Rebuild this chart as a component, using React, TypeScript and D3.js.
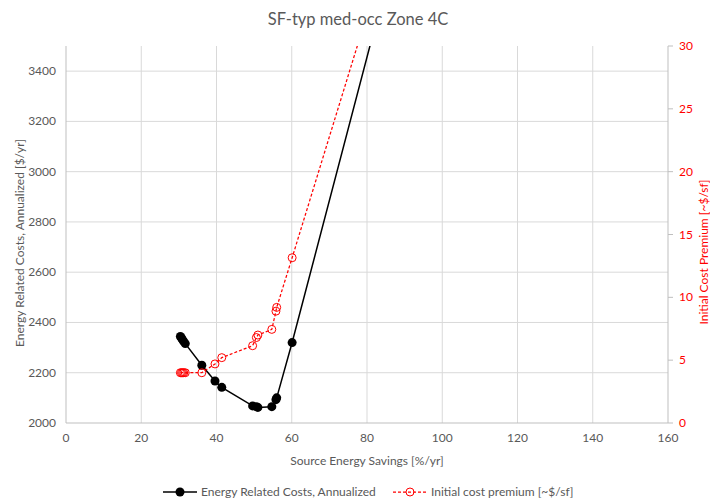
import { useEffect, useRef } from "react";
import * as d3 from "d3";

// source energy savings [%/yr], shared by both series
const savings = [30.4, 30.7, 31.0, 31.3, 31.7, 36.1, 39.6, 41.4, 49.6, 50.6, 51.0, 54.7, 55.8, 56.0, 60.1, 84.0];
// energy related costs, annualized [$/yr]
const costs = [2344, 2338, 2331, 2324, 2316, 2230, 2167, 2142, 2068, 2065, 2062, 2065, 2093, 2100, 2320, 3684];
// initial cost premium [~$/sf]
const premium = [4.0, 4.0, 4.0, 4.0, 4.0, 4.0, 4.7, 5.2, 6.15, 6.8, 7.0, 7.45, 8.9, 9.2, 13.15, 36.4];

const xTicks = [0, 20, 40, 60, 80, 100, 120, 140, 160];
const yTicks = [2000, 2200, 2400, 2600, 2800, 3000, 3200, 3400];
const y2Ticks = [0, 5, 10, 15, 20, 25, 30];

const W = 710, H = 501;
const FONT = "Lato, 'Open Sans', sans-serif";
const GREY = "#595959";

function render(svgEl: SVGSVGElement) {
    const svg = d3.select(svgEl);
    svg.selectAll("*").remove();

    const left = 66, right = 668, top = 46, bottom = 423;
    const x = d3.scaleLinear().domain([0, 160]).range([left, right]);
    const y = d3.scaleLinear().domain([2000, 3500]).range([bottom, top]);
    const y2 = d3.scaleLinear().domain([0, 30]).range([bottom, top]);

    svg.append("defs").append("clipPath").attr("id", "plot")
        .append("rect").attr("x", left).attr("y", top).attr("width", right - left).attr("height", bottom - top);

    // grid
    svg.append("g").selectAll("line").data(xTicks.slice(1, -1)).enter().append("line")
        .attr("x1", d => x(d)).attr("x2", d => x(d)).attr("y1", top).attr("y2", bottom)
        .attr("stroke", "#d9d9d9");
    svg.append("g").selectAll("line").data(yTicks.slice(1)).enter().append("line")
        .attr("x1", left).attr("x2", right).attr("y1", d => y(d)).attr("y2", d => y(d))
        .attr("stroke", "#d9d9d9");

    // axis lines
    svg.append("line").attr("x1", left).attr("x2", left).attr("y1", top).attr("y2", bottom).attr("stroke", "#bfbfbf");
    svg.append("line").attr("x1", right).attr("x2", right).attr("y1", top).attr("y2", bottom).attr("stroke", "#bfbfbf");
    svg.append("line").attr("x1", left).attr("x2", right).attr("y1", bottom).attr("y2", bottom).attr("stroke", "#bfbfbf");
    svg.append("g").selectAll("line").data(y2Ticks).enter().append("line")
        .attr("x1", right).attr("x2", right + 5).attr("y1", d => y2(d)).attr("y2", d => y2(d))
        .attr("stroke", "#bfbfbf");

    // tick labels
    svg.append("g").selectAll("text").data(xTicks).enter().append("text")
        .attr("x", d => x(d)).attr("y", bottom + 19).attr("text-anchor", "middle")
        .attr("font-family", FONT).attr("font-size", 12).attr("fill", GREY).text(d => d);
    svg.append("g").selectAll("text").data(yTicks).enter().append("text")
        .attr("x", left - 10).attr("y", d => y(d) + 4).attr("text-anchor", "end")
        .attr("font-family", FONT).attr("font-size", 12).attr("fill", GREY).text(d => d);
    svg.append("g").selectAll("text").data(y2Ticks).enter().append("text")
        .attr("x", right + 11).attr("y", d => y2(d) + 4).attr("text-anchor", "start")
        .attr("font-family", FONT).attr("font-size", 12).attr("fill", "#ff0000").text(d => d);

    // titles
    svg.append("text").attr("x", 358).attr("y", 25).attr("text-anchor", "middle")
        .attr("font-family", FONT).attr("font-size", 16.5).attr("fill", GREY).text("SF-typ med-occ Zone 4C");
    svg.append("text").attr("x", (left + right) / 2).attr("y", 465).attr("text-anchor", "middle")
        .attr("font-family", FONT).attr("font-size", 12).attr("fill", GREY).text("Source Energy Savings [%/yr]");
    svg.append("text").attr("transform", "translate(24,243) rotate(-90)").attr("text-anchor", "middle")
        .attr("font-family", FONT).attr("font-size", 12).attr("fill", GREY).text("Energy Related Costs, Annualized [$/yr]");
    svg.append("text").attr("transform", "translate(708,252) rotate(-90)").attr("text-anchor", "middle")
        .attr("font-family", FONT).attr("font-size", 12).attr("fill", "#ff0000").text("Initial Cost Premium [~$/sf]");

    const plot = svg.append("g").attr("clip-path", "url(#plot)");
    const idx = d3.range(savings.length);

    const blackLine = d3.line<number>().x(i => x(savings[i])).y(i => y(costs[i]));
    plot.append("path").attr("d", blackLine(idx)).attr("fill", "none").attr("stroke", "#000").attr("stroke-width", 1.5);
    plot.selectAll(".bd").data(idx).enter().append("circle")
        .attr("cx", i => x(savings[i])).attr("cy", i => y(costs[i])).attr("r", 4.5).attr("fill", "#000");

    const redLine = d3.line<number>().x(i => x(savings[i])).y(i => y2(premium[i]));
    plot.append("path").attr("d", redLine(idx)).attr("fill", "none").attr("stroke", "#ff0000")
        .attr("stroke-width", 1.25).attr("stroke-dasharray", "3,2");
    plot.selectAll(".rd").data(idx).enter().append("circle")
        .attr("cx", i => x(savings[i])).attr("cy", i => y2(premium[i])).attr("r", 4)
        .attr("fill", "none").attr("stroke", "#ff0000").attr("stroke-width", 1);

    // legend
    const ly = 492;
    svg.append("line").attr("x1", 163).attr("x2", 197).attr("y1", ly).attr("y2", ly).attr("stroke", "#000").attr("stroke-width", 1.5);
    svg.append("circle").attr("cx", 180).attr("cy", ly).attr("r", 4.5).attr("fill", "#000");
    svg.append("text").attr("x", 201).attr("y", ly + 4).attr("font-family", FONT).attr("font-size", 12).attr("fill", GREY)
        .text("Energy Related Costs, Annualized");
    svg.append("line").attr("x1", 393).attr("x2", 427).attr("y1", ly).attr("y2", ly).attr("stroke", "#ff0000")
        .attr("stroke-width", 1.25).attr("stroke-dasharray", "3,2");
    svg.append("circle").attr("cx", 410).attr("cy", ly).attr("r", 4).attr("fill", "none").attr("stroke", "#ff0000");
    svg.append("text").attr("x", 431).attr("y", ly + 4).attr("font-family", FONT).attr("font-size", 12).attr("fill", GREY)
        .text("Initial cost premium [~$/sf]");
}

export default function App() {
    const svgRef = useRef<SVGSVGElement>(null);
    useEffect(() => {
        if (svgRef.current) render(svgRef.current);
    }, []);
    return (
        <svg ref={svgRef} width={W} height={H}
            style={{ position: "absolute", left: 0, top: 0, background: "#fff" }} />
    );
}
